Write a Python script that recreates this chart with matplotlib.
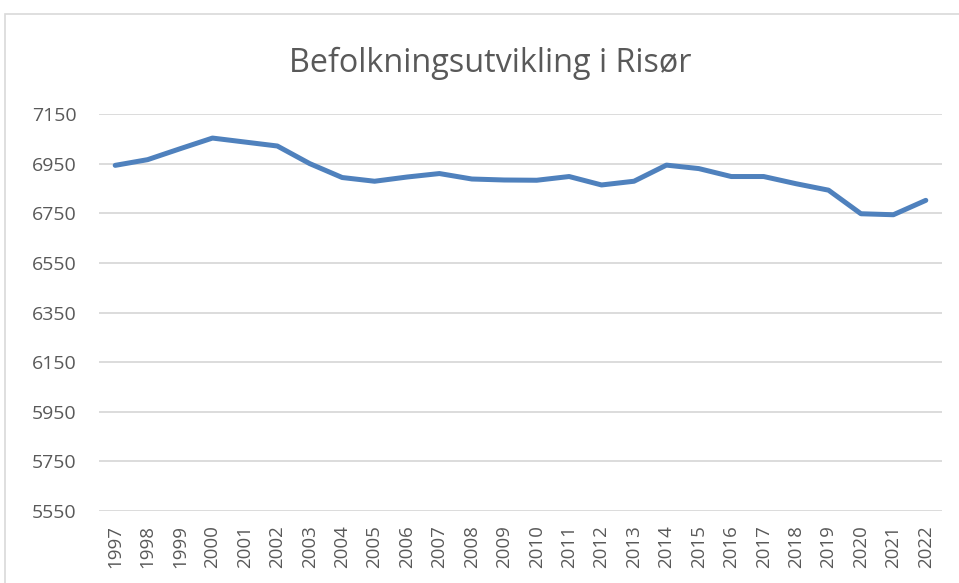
import matplotlib.pyplot as plt
from matplotlib.patches import Rectangle

years = [str(y) for y in range(1997, 2023)]
population = [6943, 6966, 7010, 7053, 7037, 7021, 6950, 6894, 6879, 6896,
              6910, 6888, 6884, 6883, 6898, 6864, 6879, 6944, 6930, 6898,
              6898, 6869, 6843, 6748, 6744, 6802]
y_ticks = [5550, 5750, 5950, 6150, 6350, 6550, 6750, 6950, 7150]

plt.rcParams['font.family'] = ['Open Sans', 'DejaVu Sans']

fig = plt.figure(figsize=(9.59, 5.83), dpi=100)
ax = fig.add_axes([99 / 959, 1 - 511 / 583, 843 / 959, 397 / 583])

# chart-area frame like the Excel export
fig.patches.append(Rectangle((5 / 959, -0.1), 1.1, 1 - 14 / 583 + 0.1,
                             transform=fig.transFigure, fill=False,
                             edgecolor='#d9d9d9', linewidth=1.2))

x = range(len(years))
ax.plot(x, population, color='#4f81bd', linewidth=3.6, solid_capstyle='round',
        solid_joinstyle='round', zorder=3)

ax.set_xlim(-0.5, len(years) - 0.5)
ax.set_ylim(5550, 7150)
ax.set_yticks(y_ticks)
ax.set_yticklabels([str(v) for v in y_ticks], fontsize=14, color='#595959')
ax.set_xticks(list(x))
ax.set_xticklabels(years, rotation=90, fontsize=13.5, color='#595959')
ax.tick_params(length=0)
ax.tick_params(axis='y', pad=16)
ax.tick_params(axis='x', pad=10)
ax.grid(axis='y', color='#d9d9d9', linewidth=1.3)
ax.set_axisbelow(True)
for s in ax.spines.values():
    s.set_visible(False)

fig.text(490 / 959, 1 - 72.5 / 583, "Befolkningsutvikling i Risør", ha='center',
         va='baseline', fontsize=23.3, color='#595959')

fig.savefig('out.png', dpi=100)
